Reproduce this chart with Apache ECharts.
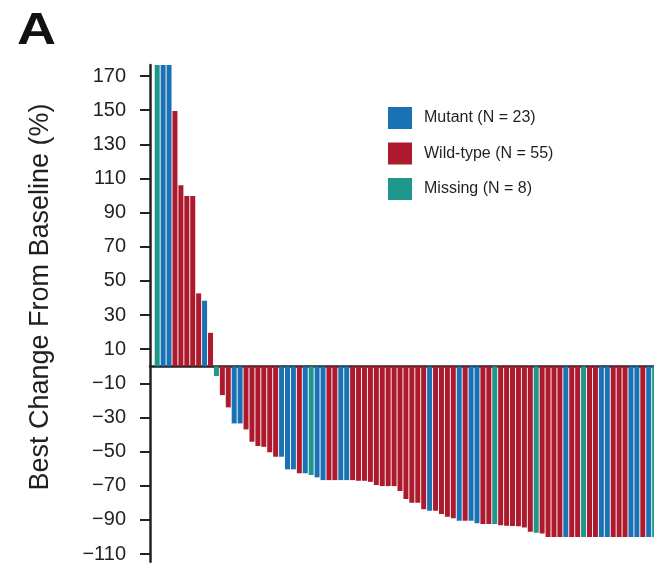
<!DOCTYPE html>
<html>
<head>
<meta charset="utf-8">
<script src="https://cdn.jsdelivr.net/npm/echarts@6/dist/echarts.min.js"></script>
<style>
  html, body { margin: 0; padding: 0; background: #ffffff; }
  #chart { width: 654px; height: 566px; }
</style>
</head>
<body>
<div id="chart"></div>
<script>
// Best change from baseline (%) per patient, sorted (waterfall)
const changes = [
  190, 190, 190, 149.5, 106, 99.7, 99.7, 42.7, 38.4, 19.6,
  -5.7, -16.9, -24.1, -33.5, -33.5, -37, -44.2, -46.7, -47.2, -50.4,
  -53, -53, -60.4, -60.4, -62.7, -62.7, -63.7, -65.1, -66.7, -66.7,
  -66.7, -66.7, -66.7, -66.7, -67.1, -67.1, -67.7, -69.6, -70.2, -70.2,
  -70.2, -73.1, -77.8, -80, -80, -83.7, -84.7, -84.7, -86.6, -88.2,
  -89.1, -90.5, -90.5, -90.5, -92, -92.4, -92.4, -92.4, -93.2, -93.5,
  -93.6, -93.8, -94.5, -97, -97.5, -98, -100, -100, -100, -100,
  -100, -100, -100, -100, -100, -100, -100, -100, -100, -100,
  -100, -100, -100, -100, -100, -100
];
// Mutation status per patient: 'mut' = Mutant, 'wt' = Wild-type, 'mis' = Missing
const groups = [
  'mis','mut','mut','wt','wt','wt','wt','wt','mut','wt',
  'mis','wt','wt','mut','mut','wt','wt','wt','wt','wt',
  'wt','mut','mut','mut','wt','mut','mis','mut','mut','wt',
  'wt','mut','mut','wt','wt','wt','wt','wt','wt','wt',
  'wt','wt','wt','wt','wt','wt','mut','wt','wt','wt',
  'wt','mut','wt','mut','mut','wt','wt','mis','wt','wt',
  'wt','wt','wt','wt','mis','wt','wt','wt','wt','mut',
  'wt','wt','mis','wt','wt','mut','mut','wt','wt','wt',
  'mut','mut','wt','mut','mis','mis'
];
const groupKeys = ['mut', 'wt', 'mis'];
const groupNames = ['Mutant (N = 23)', 'Wild-type (N = 55)', 'Missing (N = 8)'];
const groupColors = ['#1a72b5', '#ae1a2d', '#1e978c'];
const yTicks = [170, 150, 130, 110, 90, 70, 50, 30, 10, -10, -30, -50, -70, -90, -110];

const FONT = 'Liberation Sans, Helvetica, Arial, sans-serif';
const INK = '#231f20';

const series = groupKeys.map(function (key, g) {
  const data = [];
  changes.forEach(function (v, i) {
    if (groups[i] === key) data.push([i, v]);
  });
  return {
    name: groupNames[g],
    type: 'bar',
    data: data,
    barWidth: 5,
    barGap: '-100%',
    clip: true,
    itemStyle: { color: groupColors[g] },
    emphasis: { disabled: true }
  };
});

const chart = echarts.init(document.getElementById('chart'), null, { renderer: 'canvas' });
chart.setOption({
  animation: false,
  backgroundColor: '#ffffff',
  legend: {
    orient: 'vertical',
    left: 383,
    top: 102,
    itemWidth: 24,
    itemHeight: 22,
    itemGap: 13.5,
    icon: 'rect',
    data: groupNames,
    textStyle: { fontSize: 16, fontFamily: FONT, color: INK, padding: [0, 0, 0, 7] }
  },
  graphic: [{
    type: 'text',
    x: 17,
    y: 32,
    scaleX: 1.2,
    style: {
      text: 'A',
      font: 'bold 45px ' + FONT,
      fill: '#111',
      align: 'left',
      verticalAlign: 'middle'
    }
  }, {
    type: 'text',
    x: 41,
    y: 297,
    rotation: Math.PI / 2,
    style: {
      text: 'Best Change From Baseline (%)',
      font: '27px ' + FONT,
      fill: INK,
      align: 'center',
      verticalAlign: 'middle'
    }
  }],
  grid: { left: 150, right: 0, top: 65, bottom: 4.3, containLabel: false },
  xAxis: {
    type: 'value',
    min: -1.216,
    max: 83.89,
    axisLine: { show: true, onZero: true, lineStyle: { color: '#222', width: 2.5 } },
    axisTick: { show: false },
    axisLabel: { show: false },
    splitLine: { show: false }
  },
  yAxis: {
    type: 'value',
    min: -114.5,
    max: 176.5,
    axisLine: { show: true, onZero: false, lineStyle: { color: '#222', width: 2.5 } },
    axisTick: { show: true, customValues: yTicks, length: 10, lineStyle: { color: '#222', width: 2 } },
    axisLabel: {
      customValues: yTicks,
      margin: 24,
      fontSize: 20,
      fontFamily: FONT,
      color: INK,
      formatter: function (v) { return String(v).replace('-', '\u2212'); }
    },
    splitLine: { show: false }
  },
  series: series
});
</script>
</body>
</html>
